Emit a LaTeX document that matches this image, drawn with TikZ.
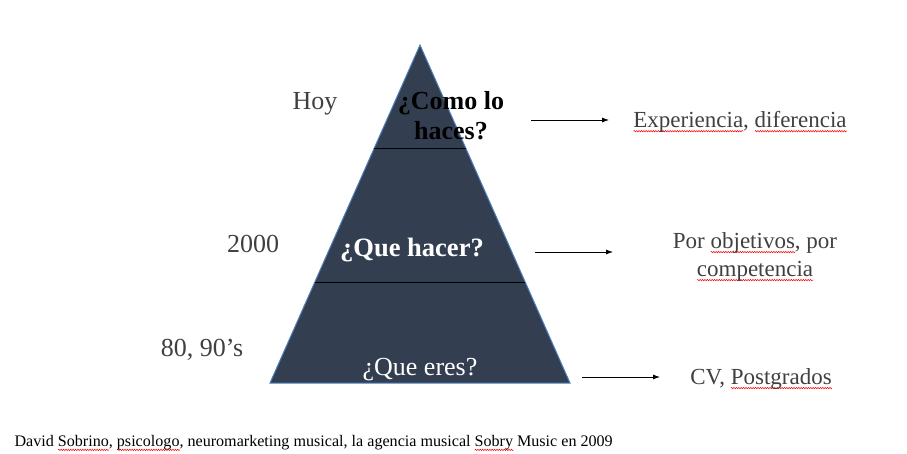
\documentclass[tikz,border=0pt]{standalone}
\usepackage{fontspec}
\setmainfont{Liberation Serif}
\usetikzlibrary{calc,arrows.meta,decorations.pathmorphing}

\definecolor{pyrfill}{HTML}{333F50}
\definecolor{pyredge}{HTML}{4F81BD}
\definecolor{labgray}{HTML}{404040}

% red spell-check wave under a word
\newsavebox\spellbox
\newcommand\spell[1]{\sbox\spellbox{#1}\rlap{\raisebox{-4.5pt}{\tikz[x=1pt,y=1pt]\draw[red, line width=0.5pt, decorate, decoration={zigzag, amplitude=0.7pt, segment length=2.4pt}] (0,0) -- (\wd\spellbox,0);}}\usebox\spellbox}

\tikzset{
  era/.style={text=labgray, font=\fontsize{26}{30}\selectfont},
  result/.style={text=labgray, font=\fontsize{23}{28}\selectfont, align=center},
  arr/.style={-{Latex[length=7pt,width=5pt]}, line width=0.8pt},
}

\begin{document}
\begin{tikzpicture}[x=1pt, y=-1pt]
    \useasboundingbox (0,0) rectangle (907,453);

    % the pyramid
    \coordinate (T) at (420,45);
    \coordinate (L) at (270,383);
    \coordinate (R) at (570,383);
    \fill[pyrfill] (T) -- (L) -- (R) -- cycle;
    \draw[pyredge, line width=1pt] (T) -- (L) -- (R) -- cycle;

    % dividing lines
    \draw[line width=0.8pt] ($(T)!0.305!(L)$) -- ($(T)!0.305!(R)$);
    \draw[line width=0.8pt] ($(T)!0.701!(L)$) -- ($(T)!0.701!(R)$);

    % levels
    \node[font=\bfseries\fontsize{26}{30}\selectfont, align=center] (how) at (451,116) {¿Como lo\\haces?};
    \node[text=white, font=\bfseries\fontsize{26.5}{30}\selectfont] (what) at (412,250) {¿Que hacer?};
    \node[text=white, font=\fontsize{26}{30}\selectfont] (who) at (420,370) {¿Que eres?};

    % eras
    \node[era] (hoy) at (315,104) {Hoy};
    \node[era] (y2k) at (253,244) {2000};
    \node[era] (old) at (202,350) {80, 90’s};

    % results
    \node[result] (exp) at (740,122) {\spell{Experiencia}, \spell{diferencia}};
    \node[result] (obj) at (755,257) {Por \spell{objetivos}, por\\\spell{competencia}};
    \node[result] (cv) at (761,379) {CV, \spell{Postgrados}};

    \coordinate (a1) at (531,120);
    \coordinate (b1) at (609,120);
    \coordinate (a2) at (535,252);
    \coordinate (b2) at (613,252);
    \coordinate (a3) at (582,377);
    \coordinate (b3) at (660,377);
    \draw[arr] (a1) -- (b1);
    \draw[arr] (a2) -- (b2);
    \draw[arr] (a3) -- (b3);

    % source
    \node[anchor=west, font=\fontsize{16.1}{18}\selectfont] (src) at (11,443)
      {David \spell{Sobrino}, \spell{psicologo}, neuromarketing musical, la agencia musical \spell{Sobry} Music en 2009};
\end{tikzpicture}
\end{document}
